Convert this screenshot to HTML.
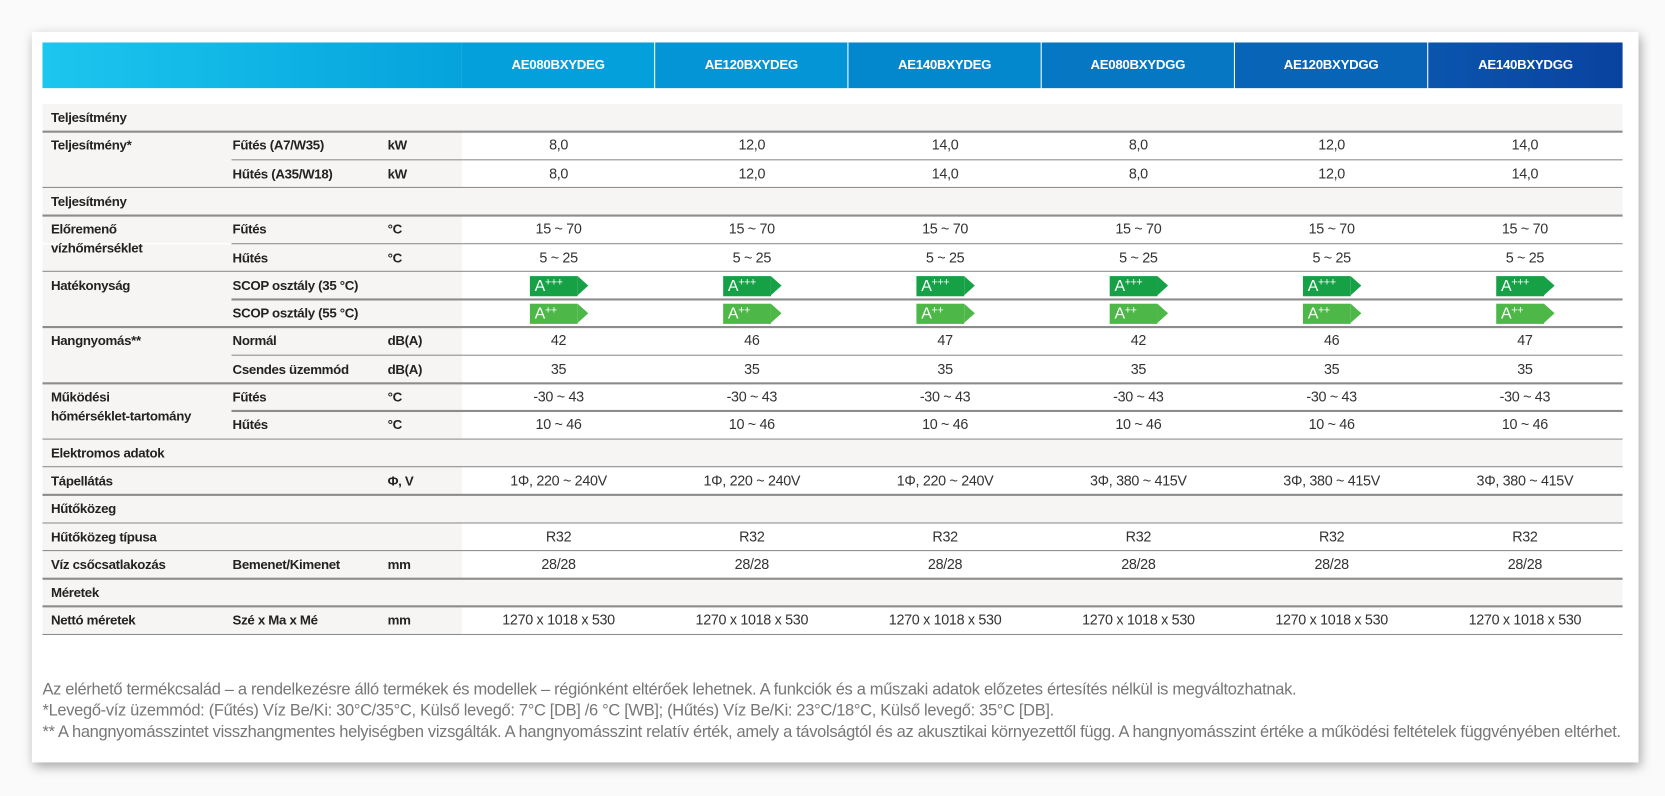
<!DOCTYPE html>
<html><head><meta charset="utf-8"><style>
html,body{margin:0;padding:0;background:#fafafa;width:1665px;height:796px;overflow:hidden}
#s{position:absolute;left:0;top:0;width:1568px;height:750px;transform:scale(1.0619);transform-origin:0 0;font-family:"Liberation Sans",sans-serif;}
.card{position:absolute;left:30px;top:30px;width:1513px;height:688px;background:#fff;box-shadow:2px 4px 10px rgba(0,0,0,.35)}
.hdr{position:absolute;top:40px;height:43px;color:#fff;font-weight:bold;font-size:12.5px;line-height:43px;text-align:center;letter-spacing:-.3px}
.row{position:absolute;left:40px;width:1488px;height:26px;font-size:12.5px;color:#222;letter-spacing:-.3px}
.sec{background:#f7f5f3}
.lab{position:absolute;top:0;height:26px;line-height:26px;font-weight:bold;z-index:5;white-space:nowrap}
.lbg{position:absolute;left:0;top:0;width:395px;height:100%;background:#f7f5f3}
.v{position:absolute;top:0;width:182px;height:26px;line-height:26px;text-align:center;font-size:13.5px;color:#333}
.ln{position:absolute;height:1.5px;background:#8c8c8c;z-index:6}
.b{display:inline-block;position:relative;width:40px;height:19px;line-height:19px;color:#fff;text-align:left;padding-left:5px;font-size:15px;vertical-align:middle;margin-left:-10px}
.b:after{content:"";position:absolute;right:-10px;top:0;border-left:10px solid;border-top:9.5px solid transparent;border-bottom:9.5px solid transparent}
.b3{background:#17a146}.b3:after{border-left-color:#17a146}
.b2{background:#4db848}.b2:after{border-left-color:#4db848}
.b sup{font-size:10px;vertical-align:5px;line-height:0}
.foot{position:absolute;left:40px;font-size:15.5px;color:#777;letter-spacing:-.3px;white-space:nowrap}
</style></head><body><div id="s">
<div class="card"></div>
<div class="hdr" style="left:40px;width:395px;background:linear-gradient(90deg,#1cc6ee,#05a3dc)"></div>
<div class="hdr" style="left:435px;width:181px;background:#04a0db">AE080BXYDEG</div>
<div class="hdr" style="left:617px;width:181px;background:#0395d5">AE120BXYDEG</div>
<div class="hdr" style="left:799px;width:181px;background:#0488cd">AE140BXYDEG</div>
<div class="hdr" style="left:981px;width:181px;background:#0678c3">AE080BXYDGG</div>
<div class="hdr" style="left:1163px;width:181px;background:#0864b6">AE120BXYDGG</div>
<div class="hdr" style="left:1345px;width:183px;background:linear-gradient(90deg,#0a55ad,#0a42a0)">AE140BXYDGG</div>
<div id="t"></div>
<div class="foot" style="top:641px">Az elérhető termékcsalád – a rendelkezésre álló termékek és modellek – régiónként eltérőek lehetnek. A funkciók és a műszaki adatok előzetes értesítés nélkül is megváltozhatnak.</div>
<div class="foot" style="top:661px">*Levegő-víz üzemmód: (Fűtés) Víz Be/Ki: 30°C/35°C, Külső levegő: 7°C [DB] /6 °C [WB]; (Hűtés) Víz Be/Ki: 23°C/18°C, Külső levegő: 35°C [DB].</div>
<div class="foot" style="top:681px">** A hangnyomásszintet visszhangmentes helyiségben vizsgálták. A hangnyomásszint relatív érték, amely a távolságtól és az akusztikai környezettől függ. A hangnyomásszint értéke a működési feltételek függvényében eltérhet.</div>
<script>
var B3='<span class="b b3">A<sup>+++</sup></span>',B2='<span class="b b2">A<sup>++</sup></span>';
var R=[
['s','Teljesítmény'],
['r','Teljesítmény*','Fűtés (A7/W35)','kW',['8,0','12,0','14,0','8,0','12,0','14,0'],0],
['r','','Hűtés (A35/W18)','kW',['8,0','12,0','14,0','8,0','12,0','14,0'],1],
['s','Teljesítmény'],
['r','Előremenő<br>vízhőmérséklet','Fűtés','°C',Array(6).fill('15 ~ 70'),0],
['r','','Hűtés','°C',Array(6).fill('5 ~ 25'),1],
['r','Hatékonyság','SCOP osztály (35 °C)','',Array(6).fill(B3),0],
['r','','SCOP osztály (55 °C)','',Array(6).fill(B2),1],
['r','Hangnyomás**','Normál','dB(A)',['42','46','47','42','46','47'],0],
['r','','Csendes üzemmód','dB(A)',Array(6).fill('35'),1],
['r','Működési<br>hőmérséklet-tartomány','Fűtés','°C',Array(6).fill('-30 ~ 43'),0],
['r','','Hűtés','°C',Array(6).fill('10 ~ 46'),1],
['s','Elektromos adatok'],
['r','Tápellátás','','Φ, V',['1Φ, 220 ~ 240V','1Φ, 220 ~ 240V','1Φ, 220 ~ 240V','3Φ, 380 ~ 415V','3Φ, 380 ~ 415V','3Φ, 380 ~ 415V'],0],
['s','Hűtőközeg'],
['r','Hűtőközeg típusa','','',Array(6).fill('R32'),0],
['r','Víz csőcsatlakozás','Bemenet/Kimenet','mm',Array(6).fill('28/28'),0],
['s','Méretek'],
['r','Nettó méretek','Szé x Ma x Mé','mm',Array(6).fill('1270 x 1018 x 530'),0]
];
var h='',y=98,H=26.3;
R.forEach(function(r,i){
 var top=y+i*H;
 if(r[0]=='s'){h+='<div class="row sec" style="top:'+top+'px;height:'+H+'px"><div class="lab" style="left:8px">'+r[1]+'</div></div>';}
 else{
  var l1=r[1].indexOf('<br>')>=0;
  h+='<div class="row" style="top:'+top+'px;height:'+H+'px"><div class="lbg"></div>';
  if(r[1])h+='<div class="lab" style="left:8px;'+(l1?'line-height:18px;top:4px;height:auto;':'')+'">'+r[1]+'</div>';
  h+='<div class="lab" style="left:179px">'+r[2]+'</div><div class="lab" style="left:325px">'+r[3]+'</div>';
  for(var k=0;k<6;k++)h+='<div class="v" style="left:'+(395+k*182)+'px">'+r[4][k]+'</div>';
  h+='</div>';
 }
 var nxt=R[i+1];
 var left=40;
 if(nxt&&nxt[0]=='r'&&nxt[1]==='')left=218;
 h+='<div class="ln" style="top:'+(top+H-1)+'px;left:'+left+'px;width:'+(1528-left)+'px"></div>';
});
document.getElementById('t').innerHTML=h;
</script>
</div></body></html>
